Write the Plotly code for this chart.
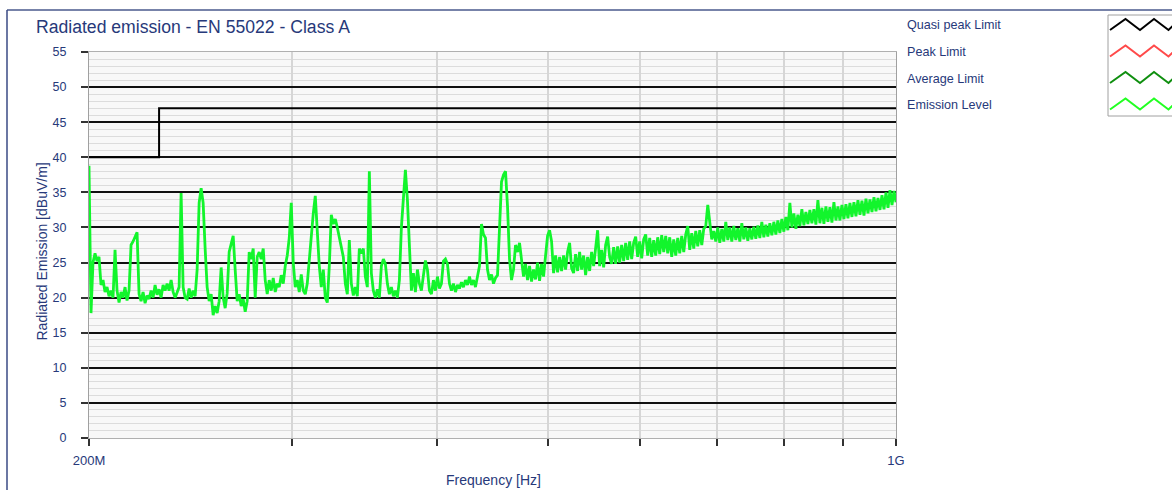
import numpy as np
import plotly.graph_objects as go

# ---------------- data ----------------
FREQ_START_HZ = 200e6
FREQ_STOP_HZ = 1000e6

# Quasi-peak limit (EN 55022 class A, radiated)
limit_freq = [200e6, 230e6, 230e6, 1000e6]
limit_level = [40, 40, 47, 47]

# Emission level (dBuV/m), log-spaced sweep 200 MHz .. 1 GHz
emission_level = [
    38.8, 17.8, 25.0, 26.3, 25.2, 25.8, 21.8, 22.5, 20.8, 21.5,
    20.2, 21.0, 20.0, 26.8, 21.0, 19.3, 20.8, 20.0, 21.5, 19.6,
    21.0, 27.5, 28.0, 28.6, 29.3, 20.5, 19.5, 20.8, 19.2, 20.3,
    19.8, 21.0, 20.0, 21.8, 20.4, 21.2, 20.0, 21.8, 21.0, 22.0,
    21.0, 22.5, 20.8, 20.0, 20.8, 21.5, 34.9, 21.5, 20.0, 19.8,
    21.3, 20.0, 21.0, 20.2, 24.0, 33.5, 35.6, 33.5, 27.0, 21.5,
    19.5, 20.5, 17.5, 18.8, 17.8, 19.5, 24.3, 20.0, 18.5, 20.6,
    26.5, 27.8, 28.8, 24.0, 19.5, 20.5, 18.8, 19.8, 18.0, 19.5,
    26.5, 25.5, 27.0, 20.0, 25.8, 26.5, 25.5, 27.0, 22.5, 20.5,
    22.5, 21.0, 22.8, 20.8, 22.0, 21.5, 23.2, 22.0, 24.5, 26.0,
    28.5, 33.5, 25.0, 21.5, 22.5, 20.8, 23.3, 21.0, 20.5, 22.0,
    25.5, 29.5, 32.0, 34.5, 29.0, 24.5, 21.5, 24.0, 20.0, 19.3,
    24.5, 31.8, 30.5, 31.2, 30.0, 28.5, 27.0, 25.8, 22.0, 20.5,
    28.2, 22.0, 20.3, 21.5, 20.2, 27.0, 26.3, 27.0, 23.0, 21.5,
    38.0, 23.5, 21.0, 20.0, 21.2, 20.0, 24.5, 25.5, 24.8, 22.0,
    20.5, 21.5, 20.2, 21.0, 20.0, 22.5, 30.0, 35.0, 38.2, 34.0,
    27.0, 21.0, 23.5, 20.8, 24.0, 22.0, 21.0, 23.5, 25.3, 24.0,
    21.0, 20.5, 22.5, 21.0, 23.0, 21.3, 22.0, 25.2, 25.5, 24.8,
    22.0, 21.0, 22.0, 20.8, 21.8, 21.3, 22.2, 21.5, 22.5, 21.8,
    23.0, 21.8, 22.5, 21.5, 22.8, 24.5, 30.5, 29.0, 28.5, 24.0,
    22.5, 23.3, 22.0, 22.8, 23.2, 29.0, 36.5, 37.5, 38.0, 33.0,
    25.5, 22.5, 24.0, 27.5, 26.5, 27.8, 25.0, 23.0,
    24.8, 22.5, 24.5, 22.3, 24.0, 22.6, 25.0, 22.4, 24.8, 23.0,
    26.0, 28.8, 29.6, 28.0,
    23.5, 26.0, 23.6, 25.8, 23.8, 26.0, 24.0, 26.5, 27.8, 24.2,
    23.5, 26.2, 23.8, 26.5, 24.0, 26.0, 23.2, 25.8, 23.8, 26.5,
    24.5, 26.8,
    29.6,
    24.5, 26.8, 24.3, 27.5, 28.7, 25.8, 24.8, 27.2, 24.8, 27.3,
    25.0, 27.5, 25.2, 27.8, 25.4, 28.0, 25.5, 27.8, 28.7, 25.8,
    28.0, 25.6, 28.3, 29.0, 26.0, 28.5, 25.8, 28.2, 26.0, 28.6,
    26.2, 28.9, 26.5, 28.8, 26.3, 28.6,
    25.8, 28.3, 26.0, 28.5, 26.3, 28.8, 26.5, 29.0, 30.2, 26.8,
    29.2, 27.0, 29.5, 27.3, 29.6, 27.5, 29.8, 30.2,
    33.2,
    30.2, 28.3, 29.5, 28.0, 30.0, 27.8, 29.8, 28.0, 30.8, 28.2,
    30.0, 28.0, 30.2, 28.2, 29.9, 28.0, 30.6, 28.3, 30.0, 28.1,
    29.9, 28.3, 30.1, 28.4, 30.3, 28.5, 30.8, 28.6, 30.4, 28.7,
    30.6, 28.9, 30.8, 29.0, 31.0, 29.2, 31.2, 29.4, 31.5,
    29.6, 33.5, 30.0, 32.0, 29.8, 31.8, 30.2, 32.6, 30.3, 32.2,
    30.5, 32.5, 30.6, 32.6,
    30.4, 33.9, 30.6, 32.8, 30.5, 33.0, 30.8, 32.9, 30.7, 33.6,
    31.0, 33.0, 31.0, 33.2, 31.2, 33.3, 31.3, 33.5, 31.5, 33.6,
    31.6, 33.9, 31.8, 33.8, 31.7, 34.1, 32.0, 34.0, 32.2, 34.3,
    32.3, 34.2, 32.5, 34.6, 32.6, 35.0, 32.8, 35.3, 33.2, 35.2,
    33.6,
]
emission_freq = np.geomspace(FREQ_START_HZ, FREQ_STOP_HZ, len(emission_level))

x_tick_vals = [200e6, 300e6, 400e6, 500e6, 600e6, 700e6, 800e6, 900e6, 1000e6]
x_tick_text = ["200M", "", "", "", "", "", "", "", "1G"]
y_tick_vals = list(range(0, 56, 5))

legend_names = ["Quasi peak Limit", "Peak Limit", "Average Limit", "Emission Level"]
legend_colors = ["#000000", "#ff4a4a", "#0f8f0f", "#22ff22"]

# ---------------- styling / layout ----------------
W, H = 1172, 490
L, R, T, B = 89, 276, 52, 52
PW, PH = W - L - R, H - T - B
NAVY = "#27397a"
FONT = "Liberation Sans, Arial, sans-serif"


def px(x):
    return (x - L) / PW


def py(y):
    return (H - B - y) / PH


fig = go.Figure()
fig.add_trace(go.Scatter(
    x=emission_freq, y=emission_level, mode="lines",
    line=dict(color="#12f52c", width=2.8), name="Emission Level",
    showlegend=False, hoverinfo="skip",
))
fig.add_trace(go.Scatter(
    x=limit_freq, y=limit_level, mode="lines",
    line=dict(color="#000000", width=2), name="Quasi peak Limit",
    showlegend=False, hoverinfo="skip",
))

shapes = []
# outer frame (top + left)
shapes.append(dict(type="line", xref="paper", yref="paper",
                   x0=px(7), x1=px(1180), y0=py(10), y1=py(10),
                   line=dict(color="#4a5a8c", width=1.5)))
shapes.append(dict(type="line", xref="paper", yref="paper",
                   x0=px(7), x1=px(7), y0=py(10), y1=py(495),
                   line=dict(color="#3a4a84", width=1.5)))
# legend sample box
shapes.append(dict(type="rect", xref="paper", yref="paper",
                   x0=px(1108), x1=px(1180), y0=py(15), y1=py(116),
                   line=dict(color="#a0a0a0", width=1), fillcolor="white"))
annotations = []
for k, (name, col) in enumerate(zip(legend_names, legend_colors)):
    base = 30 + 26.5 * k
    top = base - 11
    pts = [(1110, base), (1125.5, top), (1140, base), (1154, top), (1168.5, base), (1176, top + 4)]
    path = "M " + " L ".join(f"{px(a):.5f},{py(b):.5f}" for a, b in pts)
    shapes.append(dict(type="path", xref="paper", yref="paper", path=path,
                       line=dict(color=col, width=2)))
    annotations.append(dict(xref="paper", yref="paper", x=px(905), y=py(base - 4.5),
                            text=name, showarrow=False, xanchor="left", yanchor="middle",
                            font=dict(family=FONT, size=12.6, color=NAVY)))

annotations.append(dict(xref="paper", yref="paper", x=px(34), y=py(27),
                        text="Radiated emission - EN 55022 - Class A", showarrow=False,
                        xanchor="left", yanchor="middle",
                        font=dict(family=FONT, size=17.6, color=NAVY)))
annotations.append(dict(xref="paper", yref="paper", x=px(41), y=py(251.5),
                        text="Radiated Emission [dBuV/m]", showarrow=False, textangle=-90,
                        xanchor="center", yanchor="middle",
                        font=dict(family=FONT, size=14, color=NAVY)))
annotations.append(dict(xref="paper", yref="paper", x=px(494), y=py(480),
                        text="Frequency [Hz]", showarrow=False,
                        xanchor="center", yanchor="middle",
                        font=dict(family=FONT, size=14, color=NAVY)))

fig.update_layout(
    width=W, height=H,
    margin=dict(l=L, r=R, t=T, b=B),
    paper_bgcolor="white", plot_bgcolor="#f8f8f8",
    showlegend=False,
    shapes=shapes, annotations=annotations,
    font=dict(family=FONT, size=12, color=NAVY),
)
fig.update_xaxes(
    type="log", range=[np.log10(FREQ_START_HZ), np.log10(FREQ_STOP_HZ)],
    tickvals=x_tick_vals, ticktext=x_tick_text,
    showgrid=True, gridcolor="#d6d6d6", gridwidth=2,
    ticks="outside", ticklen=7, tickwidth=1.5, tickcolor="#333333",
    ticklabelstandoff=3,
    tickfont=dict(family=FONT, size=13, color=NAVY),
    showline=True, linecolor="#b0b0b0", linewidth=1, mirror=True,
    zeroline=False,
)
fig.update_yaxes(
    range=[0, 55], tickvals=y_tick_vals,
    showgrid=True, gridcolor="#111111", gridwidth=1.8,
    minor=dict(dtick=1, showgrid=True, gridcolor="#dcdcdc", gridwidth=1.3),
    ticks="outside", ticklen=7, tickwidth=1.5, tickcolor="#333333",
    ticklabelstandoff=12,
    tickfont=dict(family=FONT, size=12.5, color=NAVY),
    showline=True, linecolor="#a0a0a0", linewidth=1, mirror=True,
    zeroline=False,
)

fig.write_html("out.html", config={"displayModeBar": False},
               post_script="document.body.style.margin='0';")
